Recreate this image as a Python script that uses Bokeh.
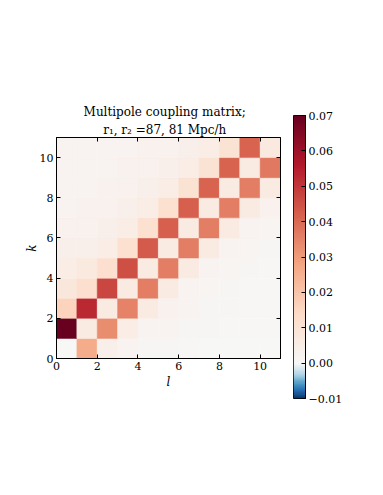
import numpy as np
from bokeh.plotting import figure
from bokeh.models import (LinearColorMapper, FixedTicker, LinearAxis, Title,
                          ColumnDataSource, Range1d)
from bokeh.layouts import row
from bokeh.transform import transform
from bokeh.embed import file_html
from bokeh.resources import INLINE

# ---------------- data ----------------
l_vals = list(range(11))
k_vals = list(range(11))
# coupling[k][l], k = row (y), l = column (x)
coupling = [
    [0.000, 0.026, 0.004, 0.002, 0.001, 0.001, 0.0005, 0.000, 0.000, 0.000, 0.000],
    [0.070, 0.006, 0.033, 0.005, 0.002, 0.002, 0.001, 0.001, 0.0005, 0.0005, 0.0005],
    [0.016, 0.053, 0.006, 0.035, 0.006, 0.003, 0.002, 0.001, 0.001, 0.0005, 0.0005],
    [0.008, 0.012, 0.047, 0.006, 0.036, 0.006, 0.002, 0.0015, 0.001, 0.0005, 0.0005],
    [0.005, 0.007, 0.012, 0.045, 0.006, 0.036, 0.006, 0.002, 0.0015, 0.001, 0.0005],
    [0.004, 0.004, 0.005, 0.011, 0.043, 0.006, 0.036, 0.006, 0.002, 0.0015, 0.001],
    [0.003, 0.003, 0.004, 0.005, 0.011, 0.042, 0.006, 0.036, 0.006, 0.002, 0.0015],
    [0.002, 0.003, 0.003, 0.004, 0.005, 0.011, 0.042, 0.006, 0.036, 0.006, 0.003],
    [0.002, 0.002, 0.003, 0.003, 0.004, 0.005, 0.010, 0.041, 0.006, 0.036, 0.006],
    [0.002, 0.002, 0.002, 0.003, 0.003, 0.004, 0.005, 0.010, 0.041, 0.006, 0.037],
    [0.002, 0.002, 0.002, 0.002, 0.003, 0.003, 0.004, 0.005, 0.010, 0.041, 0.007],
]
axis_ticks = [0, 2, 4, 6, 8, 10]
cbar_ticks = [-0.01, 0.0, 0.01, 0.02, 0.03, 0.04, 0.05, 0.06, 0.07]
cbar_labels = ["\u22120.01", "0.00", "0.01", "0.02", "0.03", "0.04", "0.05", "0.06", "0.07"]
vmin, vmax = -0.01, 0.07

title1 = "Multipole  coupling  matrix;"
title2 = "r\u2081,  r\u2082 =87, 81  Mpc/h"

# ---------------- colormap (RdBu_r, centred at 0) ----------------
anchors = ['#053061', '#2166ac', '#4393c3', '#92c5de', '#d1e5f0', '#f7f7f7',
           '#fddbc7', '#f4a582', '#d6604d', '#b2182b', '#67001f']


def h2r(h):
    return [int(h[i:i + 2], 16) for i in (1, 3, 5)]


palette = []
N = 256
for i in range(N):
    v = vmin + (vmax - vmin) * (i + 0.5) / N
    f = 0.5 * (v - vmin) / (0 - vmin) if v < 0 else 0.5 + 0.5 * v / vmax
    pos = f * 10
    j = min(int(pos), 9)
    t = pos - j
    a, b = h2r(anchors[j]), h2r(anchors[j + 1])
    c = [round(a[q] + (b[q] - a[q]) * t) for q in range(3)]
    palette.append("#%02x%02x%02x" % tuple(c))

mapper = LinearColorMapper(palette=palette, low=vmin, high=vmax)

FONT = "DejaVu Serif"

# ---------------- heatmap ----------------
xs, ys, vs = [], [], []
for k, rv in zip(k_vals, coupling):
    for l, v in zip(l_vals, rv):
        xs.append(l + 0.5)
        ys.append(k + 0.5)
        vs.append(v)
src = ColumnDataSource(dict(x=xs, y=ys, v=vs))

p = figure(width=288, height=408, x_range=Range1d(0, 11), y_range=Range1d(0, 11),
           output_backend="svg", toolbar_location=None, title=None,
           frame_align=False,
           min_border_left=56, min_border_right=8, min_border_top=137,
           min_border_bottom=50)
p.rect(x="x", y="y", width=1, height=1, source=src,
       fill_color=transform("v", mapper), line_color=transform("v", mapper),
       line_width=0.5)

p.xgrid.visible = False
p.ygrid.visible = False
p.outline_line_color = "black"
p.outline_line_width = 1
p.background_fill_color = "white"
p.border_fill_color = "white"

for ax in (p.xaxis[0], p.yaxis[0]):
    ax.ticker = FixedTicker(ticks=axis_ticks)
    ax.major_tick_in = 4
    ax.major_tick_out = 0
    ax.minor_tick_line_color = None
    ax.axis_line_color = "black"
    ax.major_label_text_font = FONT
    ax.major_label_text_font_size = "11px"
    ax.major_label_text_color = "black"
    ax.axis_label_text_font = FONT
    ax.axis_label_text_font_size = "12px"
    ax.axis_label_text_font_style = "italic"
    ax.axis_label_text_color = "black"
    ax.major_label_standoff = 3
p.xaxis.axis_label = "l"
p.yaxis.axis_label = "k"
p.yaxis.major_label_orientation = "horizontal"
p.xaxis.axis_label_standoff = 2
p.yaxis.axis_label_standoff = -2

# tick marks on the top and right edges (labels not drawn)
for loc in ("above", "right"):
    ax = LinearAxis(ticker=FixedTicker(ticks=axis_ticks), major_tick_in=4,
                    major_tick_out=0, minor_tick_line_color=None,
                    major_label_text_font_size="1px",
                    major_label_text_color=None, major_label_standoff=0,
                    axis_line_color="black")
    p.add_layout(ax, loc)

p.add_layout(Title(text=title2, align="center", text_font=FONT,
                   text_font_size="12px", text_font_style="normal",
                   text_color="black", standoff=2), "above")
p.add_layout(Title(text=title1, align="center", text_font=FONT,
                   text_font_size="12px", text_font_style="normal",
                   text_color="black", standoff=1), "above")

# ---------------- colour bar ----------------
grad = np.linspace(vmin, vmax, 256).reshape(-1, 1)
p2 = figure(width=67, height=408, x_range=Range1d(0, 1), y_range=Range1d(vmin, vmax),
            output_backend="svg", toolbar_location=None, title=None,
            x_axis_type=None, y_axis_type=None, frame_align=False,
            min_border_left=5, min_border_right=50, min_border_top=115,
            min_border_bottom=10)
p2.image(image=[grad], x=0, y=vmin, dw=1, dh=vmax - vmin, color_mapper=mapper)
p2.xgrid.visible = False
p2.ygrid.visible = False
p2.outline_line_color = "black"
p2.border_fill_color = "white"
cax = LinearAxis(ticker=FixedTicker(ticks=cbar_ticks),
                 major_label_overrides={t: s for t, s in zip(cbar_ticks, cbar_labels)},
                 major_tick_in=4, major_tick_out=0, minor_tick_line_color=None,
                 axis_line_color="black", major_label_text_font=FONT,
                 major_label_text_color="black",
                 major_label_text_font_size="11px", major_label_standoff=3)
p2.add_layout(cax, "right")

layout = row(p, p2)
open("out.html", "w").write(file_html(layout, INLINE))
